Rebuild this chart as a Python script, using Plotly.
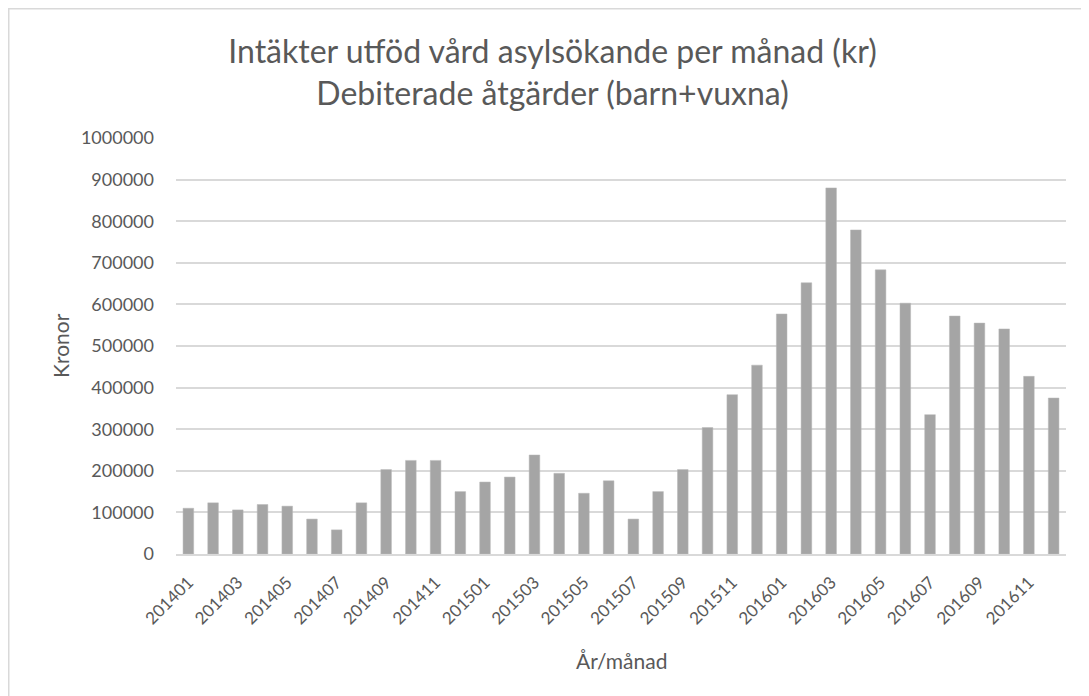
import plotly.graph_objects as go

months = [f"{y}{m:02d}" for y in (2014, 2015, 2016) for m in range(1, 13)]
values = [110000, 123000, 106000, 119000, 115000, 84000, 58000, 123000,
          203000, 225000, 225000, 150000, 173000, 185000, 238000, 194000,
          146000, 176000, 84000, 150000, 203000, 304000, 383000, 454000,
          577000, 652000, 880000, 779000, 683000, 603000, 335000, 572000,
          555000, 541000, 427000, 375000]
tick_labels = months[::2]

title_line1 = "Intäkter utföd vård asylsökande per månad (kr)"
title_line2 = "Debiterade åtgärder (barn+vuxna)"
y_title = "Kronor"
x_title = "År/månad"

# page has 8px body margin; reference pixel p -> figure pixel p-8
OFF = 8
W, H = 1089, 696
L, R = 176 - OFF, W - (1066 - OFF)
T, B = 138 - OFF, H - (554 - OFF)
pw, ph = W - L - R, H - T - B


def px_x(p):
    return (p - OFF - L) / pw


def px_y(p):
    return (H - B - (p - OFF)) / ph


font = "Lato, 'Open Sans', sans-serif"
grey = "#595959"

fig = go.Figure(go.Bar(
    x=months, y=values,
    marker=dict(color="#a5a5a5", line=dict(color="#b8b8b8", width=0.5)),
))

fig.update_layout(
    width=W, height=H,
    margin=dict(l=L, r=R, t=T, b=B),
    paper_bgcolor="white", plot_bgcolor="white",
    bargap=0.57,
    showlegend=False,
    font=dict(family=font, color=grey),
    title=dict(
        text=f"{title_line1}<br>{title_line2}",
        x=0.5, xanchor="center", y=1 - (63 - OFF) / H, yanchor="middle",
        font=dict(size=32, color=grey, family=font),
    ),
    xaxis=dict(
        type="category",
        tickmode="array", tickvals=tick_labels, ticktext=tick_labels,
        tickangle=-45, tickfont=dict(size=17, color=grey),
        showgrid=False, showline=True, linecolor="#d9d9d9", linewidth=1.5,
        ticks="", ticklabelstandoff=10,
    ),
    yaxis=dict(
        range=[0, 1000000], tickmode="linear", tick0=0, dtick=100000,
        tickformat="d", tickfont=dict(size=18, color=grey),
        showgrid=True, gridcolor="#d9d9d9", gridwidth=1.5,
        zeroline=False, showline=False, ticks="", ticklabelstandoff=21,
    ),
    annotations=[
        dict(text=x_title, xref="paper", yref="paper", x=0.5, y=px_y(660),
             xanchor="center", yanchor="middle", showarrow=False,
             font=dict(size=21, color=grey, family=font)),
        dict(text=y_title, xref="paper", yref="paper", x=px_x(60), y=px_y(346),
             xanchor="center", yanchor="middle", showarrow=False, textangle=-90,
             font=dict(size=21, color=grey, family=font)),
    ],
    shapes=[dict(
        type="rect", xref="paper", yref="paper",
        x0=px_x(OFF + 0.75), x1=px_x(W + 40), y0=px_y(H + 40), y1=px_y(OFF + 0.75),
        line=dict(color="#d9d9d9", width=1.5), fillcolor="rgba(0,0,0,0)",
        layer="below",
    )],
)

fig.write_html("out.html")
